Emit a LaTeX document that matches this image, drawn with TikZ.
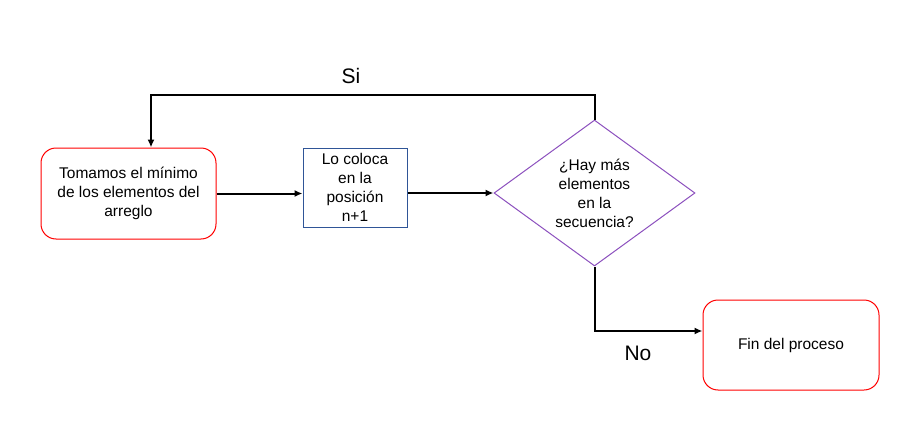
\documentclass[tikz,border=0pt]{standalone}
\usepackage{fontspec}
\setmainfont{Liberation Sans}
\usetikzlibrary{shapes.geometric,arrows.meta}
\definecolor{boxred}{RGB}{255,0,0}
\definecolor{boxblue}{RGB}{47,85,151}
\definecolor{dpurple}{RGB}{140,80,190}
\begin{document}
\begin{tikzpicture}[x=1pt,y=-1pt,
  txt/.style={font=\fontsize{15.5}{19}\selectfont, align=center, inner sep=0pt},
  redbox/.style={txt, draw=boxred, line width=1pt, rounded corners=15pt},
  bluebox/.style={txt, draw=boxblue, line width=1pt},
  decision/.style={txt, diamond, draw=dpurple, line width=1pt, shape aspect=1.377},
  conn/.style={draw=black, line width=2pt, -{Latex[length=8pt,width=7pt]}},
  lbl/.style={font=\fontsize{21}{25}\selectfont, inner sep=0pt}]
\path[use as bounding box, fill=white] (0,0) rectangle (914,447);
\node[redbox, minimum width=175pt, minimum height=91pt] (b1) at (128.5,193.5)
  {Tomamos el mínimo\\de los elementos del\\arreglo};
\node[bluebox, minimum width=104pt, minimum height=79pt] (b2) at (355,187.5)
  {Lo coloca\\en la\\posición\\n+1};
\node[decision, minimum width=201pt, minimum height=146pt] (d) at (594.5,193)
  {¿Hay más\\elementos\\en la\\secuencia?};
\node[redbox, minimum width=176pt, minimum height=90pt] (b4) at (791,345)
  {Fin del proceso};
\node[lbl] (si) at (351,76) {Si};
\node[lbl] (no) at (638,353) {No};
\draw[conn] (b1.east) -- (b1.east -| b2.west);
\draw[conn] (b2.east |- d.west) -- (d.west);
\draw[conn] (d.north) -- (d.north |- 0,95) -| ([xshift=22.5pt]b1.north);
\draw[conn] (d.south) |- ([yshift=14pt]b4.west);
\end{tikzpicture}
\end{document}
